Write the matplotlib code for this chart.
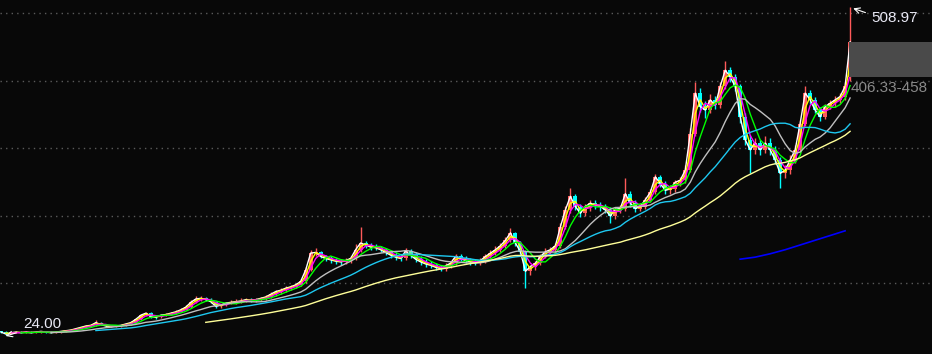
import numpy as np
import pandas as pd
from matplotlib import pyplot as plt
from matplotlib.patches import Rectangle

# weekly-ish bars
closes = [28, 25, 27, 28, 27, 28, 27, 28, 29, 28,
          27, 28, 29, 30, 31, 33, 35, 37, 38, 42,
          39, 37, 36, 37, 38, 40, 42, 47, 53, 56,
          51, 50, 53, 54, 56, 58, 61, 65, 72, 77,
          78, 76, 73, 66, 68, 71, 72, 73, 74, 76,
          75, 76, 78, 80, 84, 88, 90, 93, 95, 98,
          103, 120, 145, 146, 140, 137, 135, 133, 132, 134,
          137, 150, 160, 157, 154, 153, 150, 146, 142, 139,
          137, 148, 142, 136, 132, 129, 127, 124, 122, 126,
          130, 140, 137, 134, 132, 131, 134, 140, 145, 150,
          156, 164, 175, 160, 147, 118, 125, 130, 140, 147,
          150, 156, 184, 209, 229, 214, 204, 214, 219, 216,
          214, 209, 200, 210, 211, 233, 219, 211, 214, 224,
          235, 258, 248, 238, 240, 250, 253, 268, 322, 382,
          362, 357, 372, 364, 392, 416, 406, 392, 347, 313,
          298, 308, 298, 308, 298, 283, 263, 268, 283, 298,
          337, 382, 372, 357, 347, 362, 367, 372, 377, 392,
          458]
highs = [30, 29, 28, 29, 29, 29, 29, 29, 30, 30,
         29, 29, 30, 31, 32, 34, 36, 38, 40, 46,
         43, 40, 38, 38, 39, 41, 44, 49, 55, 58,
         57, 53, 55, 56, 58, 60, 63, 68, 75, 81,
         82, 80, 78, 74, 70, 73, 76, 77, 78, 79,
         79, 79, 80, 83, 87, 91, 93, 96, 98, 101,
         106, 124, 150, 152, 148, 142, 140, 138, 136, 138,
         140, 158, 184, 163, 160, 158, 156, 153, 150, 146,
         143, 152, 151, 146, 140, 136, 133, 131, 128, 130,
         134, 144, 143, 140, 138, 136, 138, 144, 150, 155,
         160, 169, 182, 177, 163, 150, 128, 134, 144, 152,
         154, 160, 190, 215, 241, 232, 218, 218, 224, 223,
         221, 218, 213, 214, 216, 256, 237, 223, 219, 228,
         240, 262, 261, 252, 246, 254, 258, 275, 330, 399,
         390, 370, 380, 378, 398, 429, 420, 410, 396, 352,
         320, 316, 312, 318, 316, 304, 287, 275, 290, 305,
         342, 392, 386, 376, 362, 366, 372, 378, 382, 398,
         508.97]
lows = [27, 24, 24.5, 26, 26, 27, 26, 27, 27, 27,
        26, 26, 27, 28, 29, 30, 32, 34, 36, 37,
        38, 36, 35, 35, 36, 37, 39, 41, 46, 52,
        49, 48, 49, 52, 53, 55, 57, 60, 64, 71,
        74, 74, 71, 64, 64, 66, 69, 70, 71, 72,
        72, 73, 74, 76, 78, 82, 85, 88, 90, 93,
        96, 101, 118, 140, 137, 133, 131, 129, 128, 129,
        131, 135, 147, 152, 150, 149, 146, 142, 138, 135,
        133, 135, 138, 132, 128, 125, 123, 120, 118, 119,
        123, 128, 133, 130, 128, 127, 128, 131, 137, 142,
        147, 153, 161, 156, 143, 93, 112, 120, 127, 137,
        144, 147, 153, 180, 205, 209, 198, 200, 208, 210,
        208, 204, 190, 195, 205, 208, 214, 206, 208, 211,
        220, 232, 243, 233, 233, 236, 245, 249, 265, 318,
        354, 345, 352, 358, 360, 388, 398, 385, 338, 305,
        264, 292, 290, 293, 290, 277, 241, 256, 262, 278,
        295, 333, 366, 352, 341, 344, 358, 362, 367, 372,
        400]
first_open = 29
last_open = 406.33

blue_idx = [148, 151, 154, 157, 160, 163, 166, 169]
blue_val = [136, 139, 144, 150, 157, 164, 171, 178]

ma_windows = [1, 2, 3, 5, 11, 20, 42]
ma_colors = ["#ffffff", "#ffff00", "#ff00ff", "#00ff00", "#c0c0c0", "#1ec8f0", "#ffff99"]

close_s = pd.Series(closes, dtype=float)
opens = close_s.shift(1).fillna(first_open).values
opens[-1] = last_open
x = np.arange(len(closes))

fig = plt.figure(figsize=(9.32, 3.54), dpi=100, facecolor="#080808")
ax = fig.add_axes([0, 0, 1, 1], facecolor="#080808")
ax.set_xlim(-0.2, 186.4)
ax.set_ylim(-4.5, 520)
ax.axis("off")

for lvl in [100, 200, 300, 400, 500]:
    ax.axhline(lvl, color="#5a5a5a", lw=1, ls=(0, (1, 3)), zorder=0)

up = closes >= opens
up_col, down_col = "#ff5a5a", "#00ffff"
colors = np.where(up, up_col, down_col)
ax.vlines(x, lows, highs, colors=colors, lw=1, zorder=2)
bottom = np.minimum(opens, closes)
height = np.maximum(np.abs(np.array(closes) - opens), 0.8)
ax.bar(x, height, bottom=bottom, width=0.8, color=colors, lw=0, zorder=2)

for w, c in zip(ma_windows, ma_colors):
    ma = close_s.rolling(w).mean()
    ax.plot(x, ma, color=c, lw=1, zorder=3)

ax.plot(blue_idx, blue_val, color="#0000ff", lw=1.2, zorder=3)

# highlight box for the latest bar
ax.add_patch(Rectangle((x[-1] - 0.3, opens[-1]), 200, closes[-1] - opens[-1],
                       color="#4a4a4a", zorder=4, lw=0))

font = "Liberation Sans"
ax.annotate("", xy=(x[-1] + 0.1, highs[-1]), xytext=(x[-1] + 3.6, highs[-1] - 9),
            arrowprops=dict(arrowstyle="->", color="white", lw=0.8), zorder=5)
ax.text(x[-1] + 4.3, highs[-1] - 15, f"{highs[-1]:.2f}", color="#e8e8f4",
        fontsize=11, family=font, va="center", zorder=5)
ax.text(x[-1] + 0.2, 390, f"{last_open:.2f}-{closes[-1]:.0f}", color="#8a8a8a",
        fontsize=11, family=font, va="center", zorder=5)

low_i = int(np.argmin(lows))
ax.annotate("", xy=(low_i - 0.6, lows[low_i] - 3), xytext=(low_i + 2.6, lows[low_i] + 4),
            arrowprops=dict(arrowstyle="->", color="white", lw=0.8), zorder=5)
ax.text(low_i + 3.4, lows[low_i] + 16, f"{min(lows):.2f}", color="#e8e8f4",
        fontsize=11, family=font, va="center", zorder=5)

fig.savefig("out.png", dpi=100, facecolor=fig.get_facecolor())
